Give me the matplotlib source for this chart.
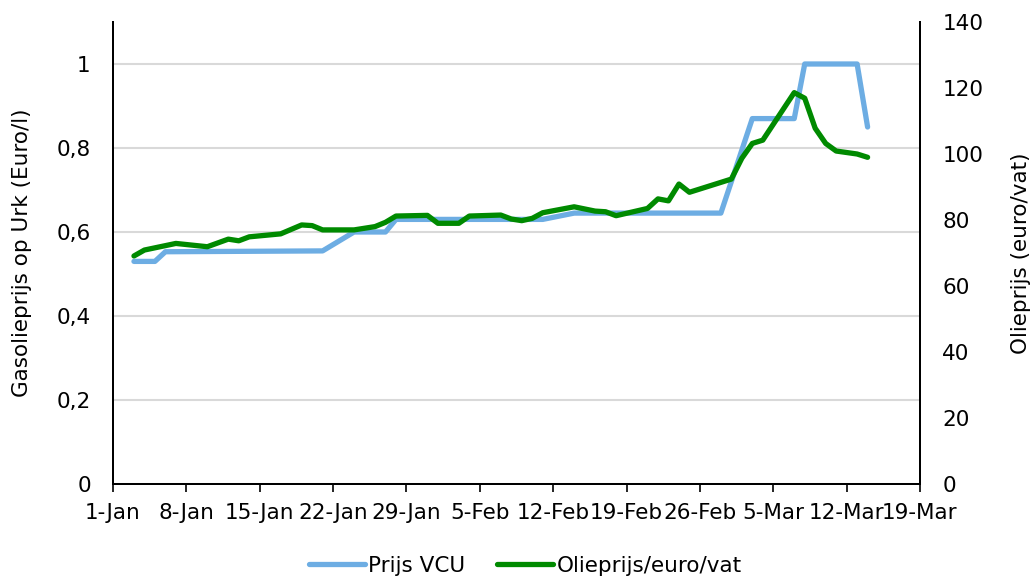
import matplotlib
matplotlib.use('Agg')
from matplotlib import pyplot as plt
import matplotlib.dates as mdates
import numpy as np

# Prijs VCU (Euro/l), linker as
vcu_dates = ['2022-01-03', '2022-01-05', '2022-01-06', '2022-01-21', '2022-01-24',
             '2022-01-27', '2022-01-28', '2022-02-11', '2022-02-14', '2022-02-28',
             '2022-03-03', '2022-03-07', '2022-03-08', '2022-03-13', '2022-03-14']
vcu_values = [0.53, 0.53, 0.553, 0.555, 0.60, 0.60, 0.63, 0.63, 0.645, 0.645,
              0.87, 0.87, 1.0, 1.0, 0.85]

# Olieprijs (euro/vat), rechter as
oil_dates = ['2022-01-03', '2022-01-04', '2022-01-07', '2022-01-10', '2022-01-12',
             '2022-01-13', '2022-01-14', '2022-01-17', '2022-01-19', '2022-01-20',
             '2022-01-21', '2022-01-24', '2022-01-26', '2022-01-27', '2022-01-28',
             '2022-01-31', '2022-02-01', '2022-02-03', '2022-02-04', '2022-02-07',
             '2022-02-08', '2022-02-09', '2022-02-10', '2022-02-11', '2022-02-14',
             '2022-02-16', '2022-02-17', '2022-02-18', '2022-02-21', '2022-02-22',
             '2022-02-23', '2022-02-24', '2022-02-25', '2022-03-01', '2022-03-02',
             '2022-03-03', '2022-03-04', '2022-03-07', '2022-03-08', '2022-03-09',
             '2022-03-10', '2022-03-11', '2022-03-13', '2022-03-14']
oil_values = [69.1, 70.9, 72.9, 71.9, 74.2, 73.7, 74.9, 75.8, 78.5, 78.3,
              77.0, 77.0, 78.0, 79.3, 81.2, 81.4, 79.0, 79.0, 81.2, 81.5,
              80.3, 79.8, 80.5, 82.2, 84.0, 82.7, 82.5, 81.3, 83.5, 86.4,
              85.8, 90.9, 88.4, 92.4, 98.7, 103.2, 104.2, 118.6, 116.9, 107.8,
              103.2, 100.9, 100.0, 99.0]

left_ticks = [0, 0.2, 0.4, 0.6, 0.8, 1.0]
left_labels = ['0', '0,2', '0,4', '0,6', '0,8', '1']
right_ticks = [0, 20, 40, 60, 80, 100, 120, 140]

fs = 15.5
plt.rcParams['font.family'] = ['Verdana', 'DejaVu Sans']
plt.rcParams['font.size'] = fs

fig = plt.figure(figsize=(10.3, 5.8), dpi=100)
ax = fig.add_axes([113/1030, 1-484/580, (920-113)/1030, (484-22)/580])
ax2 = ax.twinx()

vd = np.array(vcu_dates, dtype='datetime64[D]')
od = np.array(oil_dates, dtype='datetime64[D]')

l1, = ax.plot(vd, vcu_values, color='#6DADE3', lw=3.8, solid_capstyle='round',
              solid_joinstyle='round', label='Prijs VCU')
l2, = ax2.plot(od, oil_values, color='#008A00', lw=3.8, solid_capstyle='round',
               solid_joinstyle='round', label='Olieprijs/euro/vat')

ax.set_xlim(np.datetime64('2022-01-01'), np.datetime64('2022-03-19'))
ax.set_ylim(0, 1.1)
ax2.set_ylim(0, 140)

xt = np.arange(np.datetime64('2022-01-01'), np.datetime64('2022-03-20'), 7)
ax.set_xticks(xt)
ax.xaxis.set_major_formatter(mdates.DateFormatter('%-d-%b'))

ax.set_yticks(left_ticks)
ax.set_yticklabels(left_labels)
ax2.set_yticks(right_ticks)

ax.grid(axis='y', color='#D9D9D9', lw=1.5)
ax.set_axisbelow(True)

for a in (ax, ax2):
    a.spines['top'].set_visible(False)
    for s in ('left', 'right', 'bottom'):
        a.spines[s].set_linewidth(1.4)
        a.spines[s].set_color('black')

ax.tick_params(axis='y', length=0, pad=16, labelsize=fs)
ax2.tick_params(axis='y', length=0, pad=16, labelsize=fs)
ax.tick_params(axis='x', length=6, width=1.2, direction='out', pad=8, labelsize=fs)

ax.set_ylabel('Gasolieprijs op Urk (Euro/l)', fontsize=fs, labelpad=18)
ax2.set_ylabel('Olieprijs (euro/vat)', fontsize=fs, labelpad=20)

fig.legend([l1, l2], ['Prijs VCU', 'Olieprijs/euro/vat'], loc='center',
           bbox_to_anchor=(0.51, 1-566/580), ncol=2, frameon=False,
           handlelength=2.6, handletextpad=0.15, columnspacing=1.5, fontsize=fs)

fig.savefig('out.png', dpi=100)
